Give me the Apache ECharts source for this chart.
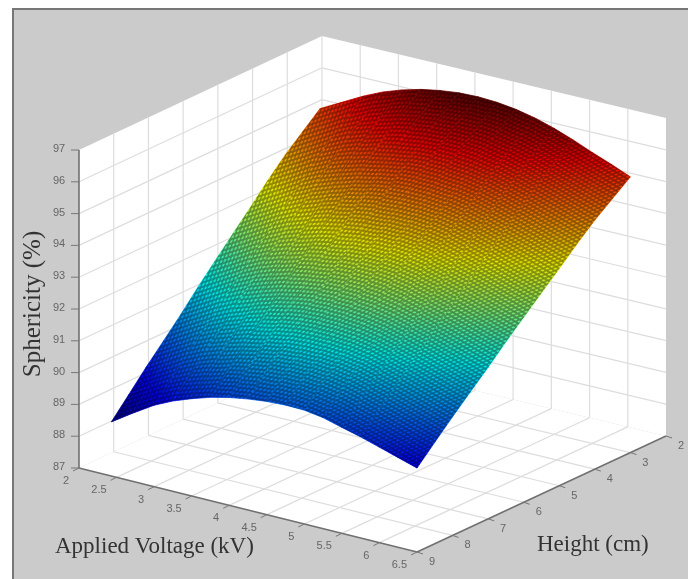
<!DOCTYPE html>
<html>
<head>
<meta charset="utf-8">
<script src="https://cdn.jsdelivr.net/npm/echarts@6/dist/echarts.min.js"></script>
<style>
html, body { margin: 0; padding: 0; background: #fff; }
#chart { width: 688px; height: 579px; filter: blur(0.5px); }
</style>
</head>
<body>
<div id="chart"></div>
<script>
var voltTicks = [2, 2.5, 3, 3.5, 4, 4.5, 5, 5.5, 6, 6.5];
var heightTicks = [2, 3, 4, 5, 6, 7, 8, 9];
var sphericityTicks = [87, 88, 89, 90, 91, 92, 93, 94, 95, 96, 97];

// values, one row per height
var voltages = [2.43, 2.7, 3, 3.25, 3.5, 3.75, 4, 4.25, 4.5, 4.75, 5, 5.25, 5.5, 5.75, 6, 6.25, 6.5];
var heights = [3, 3.5, 4, 4.5, 5, 5.5, 6, 6.5, 7, 7.5, 8, 8.5, 9];
var sphericity = [
	[95.48, 95.82, 96.20, 96.47, 96.68, 96.84, 96.95, 97.02, 97.04, 97.01, 96.93, 96.80, 96.62, 96.40, 96.15, 95.92, 95.67],
	[95.01, 95.36, 95.74, 96.01, 96.22, 96.38, 96.50, 96.57, 96.59, 96.56, 96.49, 96.36, 96.18, 95.97, 95.72, 95.49, 95.25],
	[94.54, 94.89, 95.28, 95.55, 95.76, 95.92, 96.04, 96.11, 96.14, 96.12, 96.04, 95.92, 95.74, 95.53, 95.29, 95.07, 94.83],
	[94.00, 94.35, 94.75, 95.02, 95.23, 95.40, 95.51, 95.59, 95.62, 95.60, 95.54, 95.41, 95.24, 95.03, 94.80, 94.58, 94.34],
	[93.41, 93.78, 94.17, 94.45, 94.66, 94.83, 94.95, 95.03, 95.06, 95.05, 94.99, 94.87, 94.70, 94.50, 94.27, 94.05, 93.82],
	[92.84, 93.21, 93.62, 93.89, 94.10, 94.28, 94.40, 94.48, 94.52, 94.51, 94.46, 94.34, 94.17, 93.98, 93.75, 93.54, 93.32],
	[92.26, 92.63, 93.04, 93.32, 93.53, 93.71, 93.83, 93.92, 93.96, 93.96, 93.91, 93.80, 93.63, 93.44, 93.23, 93.02, 92.81],
	[91.68, 92.06, 92.48, 92.75, 92.97, 93.15, 93.28, 93.36, 93.41, 93.42, 93.38, 93.27, 93.10, 92.92, 92.71, 92.51, 92.30],
	[91.06, 91.46, 91.88, 92.15, 92.37, 92.55, 92.68, 92.77, 92.83, 92.84, 92.80, 92.70, 92.53, 92.36, 92.16, 91.96, 91.76],
	[90.48, 90.88, 91.31, 91.58, 91.80, 91.99, 92.12, 92.21, 92.27, 92.29, 92.26, 92.16, 92.00, 91.83, 91.63, 91.44, 91.25],
	[89.91, 90.32, 90.75, 91.02, 91.24, 91.43, 91.56, 91.66, 91.72, 91.74, 91.72, 91.63, 91.46, 91.30, 91.11, 90.93, 90.73],
	[89.30, 89.72, 90.15, 90.43, 90.65, 90.84, 90.98, 91.08, 91.14, 91.17, 91.15, 91.06, 90.90, 90.75, 90.56, 90.38, 90.19],
	[88.70, 89.12, 89.56, 89.84, 90.06, 90.25, 90.39, 90.49, 90.56, 90.59, 90.58, 90.49, 90.33, 90.18, 90.00, 89.82, 89.64]
];

var jet = ['#00008f', '#0000ff', '#00ffff', '#ffff00', '#ff0000', '#600000'];
var jetOffsets = [0, 0.125, 0.375, 0.625, 0.875, 1];
var colorMin = 88.7, colorMax = 97.04;

var chart = echarts.init(document.getElementById('chart'));

// the box seen from the camera: floor corners on screen, and how far one percent rises
var floorBack = [322, 354], floorRight = [666, 436], floorLeft = [79, 468], floorFront = [417, 552];
var zScale = 31.8;

function project(v, h, z) {
	var u = (v - 2) / 4.5, t = (h - 2) / 7;
	var x = (1 - u) * (1 - t) * floorBack[0] + u * (1 - t) * floorRight[0] + (1 - u) * t * floorLeft[0] + u * t * floorFront[0];
	var y = (1 - u) * (1 - t) * floorBack[1] + u * (1 - t) * floorRight[1] + (1 - u) * t * floorLeft[1] + u * t * floorFront[1];
	return [x, y - (z - 87) * zScale];
}

function jetColor(z) {
	var n = Math.max(0, Math.min(1, (z - colorMin) / (colorMax - colorMin)));
	for (var i = 1; i < jetOffsets.length; i++) {
		if (n <= jetOffsets[i]) {
			return echarts.color.lerp((n - jetOffsets[i - 1]) / (jetOffsets[i] - jetOffsets[i - 1]), [jet[i - 1], jet[i]]);
		}
	}
	return jet[jet.length - 1];
}

// fill of one flat triangle: z is linear on screen, so a global gradient is exact
function triangleFill(p, z) {
	var ux = p[1][0] - p[0][0], uy = p[1][1] - p[0][1], wx = p[2][0] - p[0][0], wy = p[2][1] - p[0][1];
	var dz1 = z[1] - z[0], dz2 = z[2] - z[0];
	var det = ux * wy - uy * wx;
	var a = (dz1 * wy - dz2 * uy) / det, b = (dz2 * ux - dz1 * wx) / det;
	var g2 = a * a + b * b;
	var lo = 0, hi = 0;
	for (var i = 1; i < 3; i++) {
		if (z[i] < z[lo]) lo = i;
		if (z[i] > z[hi]) hi = i;
	}
	var range = z[hi] - z[lo];
	if (g2 === 0 || range === 0) return jetColor(z[0]);
	var ex = p[lo][0] + a * range / g2, ey = p[lo][1] + b * range / g2;
	var stops = [0, 0.25, 0.5, 0.75, 1].map(function(o) {
		return { offset: o, color: jetColor(z[lo] + o * range) };
	});
	return new echarts.graphic.LinearGradient(p[lo][0], p[lo][1], ex, ey, stops, true);
}

// fine dark mesh of the surface, laid over it as a repeating texture
function meshTile() {
	var w = 4, h = 16;
	var c = document.createElement('canvas');
	c.width = w; c.height = h;
	var ctx = c.getContext('2d');
	var img = ctx.createImageData(w, h);
	for (var y = 0; y < h; y++) {
		for (var x = 0; x < w; x++) {
			var b = (y + 0.5) / 4;
			var a = (x + 0.5 + 3 * b) / 4;
			var da = Math.abs(a - Math.round(a)) * 4, db = Math.abs(b - Math.round(b)) * 4;
			var d = Math.max(Math.exp(-da * da / 1.2), Math.exp(-db * db / 1.2));
			img.data[(y * w + x) * 4 + 3] = Math.round(255 * 0.5 * d);
		}
	}
	ctx.putImageData(img, 0, 0);
	return c;
}
var tile = meshTile();

function layer(items, z, draw) {
	return {
		type: 'custom',
		coordinateSystem: 'cartesian2d',
		silent: true,
		clip: false,
		z: z,
		data: items.map(function(d, i) { return [i, 0]; }),
		renderItem: function(params, api) {
			return draw(items[params.dataIndex], api);
		}
	};
}

function polygonOf(points, api, style) {
	return { type: 'polygon', shape: { points: points.map(function(p) { return api.coord(p); }) }, style: style };
}

var vMin = voltTicks[0], vMax = voltTicks[voltTicks.length - 1];
var hMin = heightTicks[0], hMax = heightTicks[heightTicks.length - 1];
var zMin = sphericityTicks[0], zMax = sphericityTicks[sphericityTicks.length - 1];

var walls = [
	[project(vMin, hMin, zMin), project(vMax, hMin, zMin), project(vMax, hMax, zMin), project(vMin, hMax, zMin)],
	[project(vMin, hMin, zMin), project(vMin, hMax, zMin), project(vMin, hMax, zMax), project(vMin, hMin, zMax)],
	[project(vMin, hMin, zMin), project(vMax, hMin, zMin), project(vMax, hMin, zMax), project(vMin, hMin, zMax)]
];

var gridLines = [];
voltTicks.slice(1, -1).forEach(function(v) {
	gridLines.push([project(v, hMin, zMin), project(v, hMax, zMin)]);
	gridLines.push([project(v, hMin, zMin), project(v, hMin, zMax)]);
});
heightTicks.slice(1, -1).forEach(function(h) {
	gridLines.push([project(vMin, h, zMin), project(vMax, h, zMin)]);
	gridLines.push([project(vMin, h, zMin), project(vMin, h, zMax)]);
});
sphericityTicks.slice(1, -1).forEach(function(z) {
	gridLines.push([project(vMin, hMax, z), project(vMin, hMin, z)]);
	gridLines.push([project(vMin, hMin, z), project(vMax, hMin, z)]);
});
gridLines.push([project(vMin, hMin, zMin), project(vMin, hMin, zMax)]);

var axisLines = [
	[project(vMin, hMax, zMin), project(vMin, hMax, zMax)],
	[project(vMin, hMax, zMin), project(vMax, hMax, zMin)],
	[project(vMax, hMax, zMin), project(vMax, hMin, zMin)]
];
var tickLines = [], tickLabels = [];
voltTicks.forEach(function(v) {
	var p = project(v, hMax, zMin);
	tickLines.push([p, [p[0] - 6, p[1] + 3]]);
	tickLabels.push({ text: String(v), x: p[0] - 10, y: p[1] + 13, align: 'right' });
});
heightTicks.forEach(function(h) {
	var p = project(vMax, h, zMin);
	tickLines.push([p, [p[0] + 6, p[1] + 2]]);
	tickLabels.push({ text: String(h), x: p[0] + 15, y: p[1] + 10, align: 'center' });
});
sphericityTicks.forEach(function(z) {
	var p = project(vMin, hMax, z);
	tickLines.push([p, [p[0] - 8, p[1]]]);
	tickLabels.push({ text: String(z), x: p[0] - 20, y: p[1] - 1, align: 'center' });
});

var triangles = [];
for (var r = 0; r < heights.length - 1; r++) {
	for (var c = 0; c < voltages.length - 1; c++) {
		var k = [[r, c], [r, c + 1], [r + 1, c + 1], [r + 1, c]].map(function(rc) {
			return [voltages[rc[1]], heights[rc[0]], sphericity[rc[0]][rc[1]]];
		});
		triangles.push([k[0], k[1], k[2]]);
		triangles.push([k[0], k[2], k[3]]);
	}
}

// one strip per voltage step, so the mesh rows can lean the way the surface leans
var strips = [];
for (var s = 0; s < voltages.length - 1; s++) {
	var pts = [];
	heights.forEach(function(h, j) { pts.push(project(voltages[s], h, sphericity[j][s])); });
	for (var j = heights.length - 1; j >= 0; j--) {
		pts.push(project(voltages[s + 1], heights[j], sphericity[j][s + 1]));
	}
	var mid = Math.floor(heights.length / 2);
	var a0 = project(voltages[s], heights[mid], sphericity[mid][s]);
	var a1 = project(voltages[s + 1], heights[mid], sphericity[mid][s + 1]);
	strips.push({ points: pts, lean: Math.atan2(a1[1] - a0[1], a1[0] - a0[0]) });
}

function lineOf(seg, api, stroke, width) {
	var a = api.coord(seg[0]), b = api.coord(seg[1]);
	return { type: 'line', shape: { x1: a[0], y1: a[1], x2: b[0], y2: b[1] }, style: { stroke: stroke, lineWidth: width } };
}

var option = {
	animation: false,
	backgroundColor: '#fff',
	grid: { left: 0, right: 0, top: 0, bottom: 0 },
	xAxis: { type: 'value', min: 0, max: 688, show: false },
	yAxis: { type: 'value', min: 0, max: 579, inverse: true, show: false },
	graphic: [
		{ type: 'rect', z: 0, shape: { x: 13, y: 9, width: 675, height: 570 }, style: { fill: '#cbcbcb' } },
		{ type: 'rect', z: 0, shape: { x: 12, y: 8, width: 676, height: 2 }, style: { fill: '#777' } },
		{ type: 'rect', z: 0, shape: { x: 12, y: 8, width: 2, height: 571 }, style: { fill: '#777' } },
		{ type: 'text', z: 10, x: 55, y: 547, style: { text: 'Applied Voltage (kV)', font: '23px "Liberation Serif"', fill: '#333', verticalAlign: 'middle' } },
		{ type: 'text', z: 10, x: 537, y: 545, style: { text: 'Height (cm)', font: '23px "Liberation Serif"', fill: '#333', verticalAlign: 'middle' } },
		{ type: 'text', z: 10, x: 33, y: 304, rotation: Math.PI / 2, style: { text: 'Sphericity (%)', font: '25px "Liberation Serif"', fill: '#333', align: 'center', verticalAlign: 'middle' } }
	],
	series: [
		layer(walls, 2, function(w, api) {
			return polygonOf(w, api, { fill: '#fff' });
		}),
		layer(gridLines, 3, function(s, api) {
			return lineOf(s, api, '#dddddd', 1.2);
		}),
		layer(axisLines, 4, function(s, api) {
			return lineOf(s, api, '#707070', 1.6);
		}),
		layer(tickLines, 4, function(s, api) {
			return lineOf(s, api, '#777', 1);
		}),
		layer(tickLabels, 4, function(t, api) {
			var p = api.coord([t.x, t.y]);
			return { type: 'text', style: { text: t.text, x: p[0], y: p[1], align: t.align, verticalAlign: 'middle', font: '11px "Liberation Sans"', fill: '#666' } };
		}),
		layer(triangles, 5, function(tri, api) {
			var pts = tri.map(function(q) { return api.coord(project(q[0], q[1], q[2])); });
			var zs = tri.map(function(q) { return q[2]; });
			var fill = triangleFill(pts, zs);
			return { type: 'polygon', shape: { points: pts }, style: { fill: fill, stroke: fill, lineWidth: 0.7 } };
		}),
		layer(strips, 6, function(st, api) {
			return polygonOf(st.points, api, { fill: { image: tile, repeat: 'repeat', rotation: st.lean } });
		})
	]
};

chart.setOption(option);
</script>
</body>
</html>
